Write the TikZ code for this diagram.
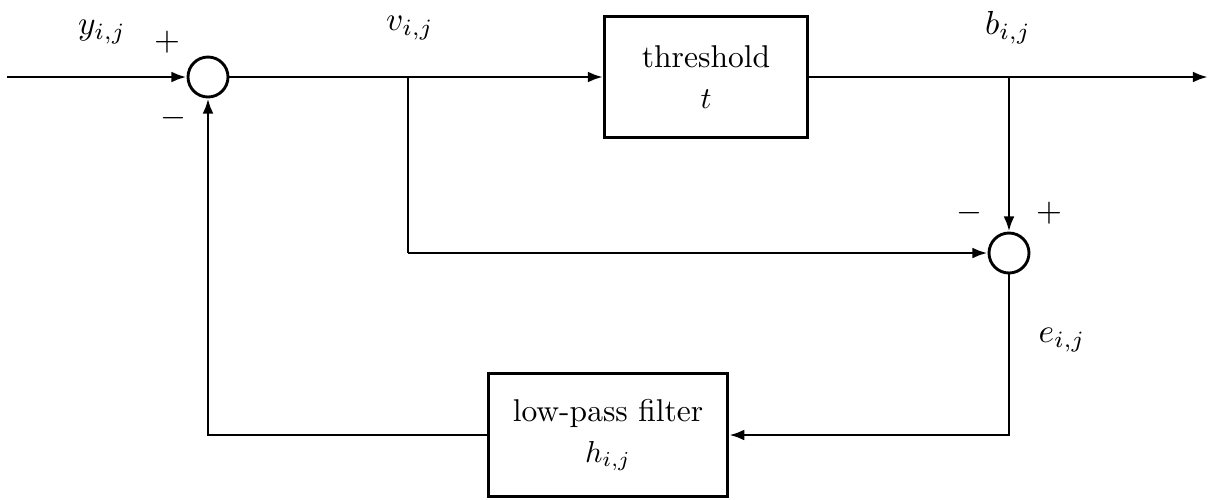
\documentclass[tikz,border=0pt]{standalone}
\usetikzlibrary{arrows.meta}
\begin{document}
\begin{tikzpicture}[x=0.33pt,y=-0.33pt,
  line width=0.95pt,
  sumnode/.style={draw,circle,minimum size=13.2pt,inner sep=0pt},
  blockbox/.style={draw,rectangle,align=center,inner sep=0pt,font=\fontsize{10.4}{12.5}\selectfont},
  arr/.style={-{Latex[length=5pt,width=3.6pt]}},
  lbl/.style={inner sep=0pt,scale=1.1}]
\useasboundingbox (0,0) rectangle (1210,499);
% nodes
\node[sumnode] (s1) at (208,77) {};
\node[sumnode] (s2) at (1009,253) {};
\node[blockbox,minimum width=67pt,minimum height=40pt] (thr) at (706,77) {threshold\\[1pt]$t$};
\node[blockbox,minimum width=79pt,minimum height=40.6pt] (lpf) at (608,435) {low-pass filter\\[1pt]$h_{i,j}$};
\coordinate (in) at (7,77);
\coordinate (out) at (1208,77);
\coordinate (vb) at (408,77);
\coordinate (bb) at (1009,77);
\coordinate (vd) at (408,253);
\coordinate (ed) at (1009,435);
\coordinate (hl) at (208,435);
% connectors
\draw[arr] (in) -- (s1.west);
\draw[arr] (s1.east) -- (thr.west);
\draw[arr] (thr.east) -- (out);
\draw (vb) -- (vd);
\draw[arr] (vd) -- (s2.west);
\draw[arr] (bb) -- (s2.north);
\draw[arr] (s2.south) -- (ed) -- (lpf.east);
\draw[arr] (lpf.west) -- (hl) -- (s1.south);
% labels
\node[lbl] (ly) at (102,32) {$y_{i,j}$};
\node[lbl] (lp1) at (167,42) {$+$};
\node[lbl] (lm1) at (173,118) {$-$};
\node[lbl] (lv) at (410,28) {$v_{i,j}$};
\node[lbl] (lb) at (1008,28) {$b_{i,j}$};
\node[lbl] (lm2) at (969,213) {$-$};
\node[lbl] (lp2) at (1049,213) {$+$};
\node[lbl] (le) at (1062,340) {$e_{i,j}$};
\end{tikzpicture}
\end{document}
